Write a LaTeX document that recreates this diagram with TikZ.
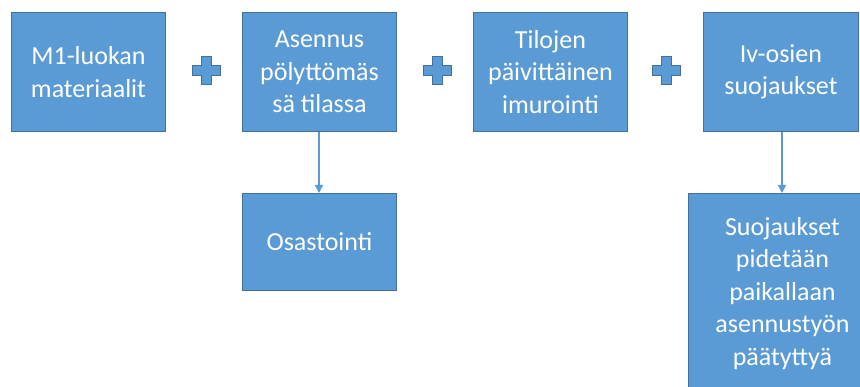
\documentclass[tikz,border=0pt]{standalone}
\usepackage{fontspec}
\setmainfont{Carlito}
\usetikzlibrary{arrows.meta}
\definecolor{boxfill}{HTML}{5B9BD5}
\definecolor{boxline}{HTML}{41719C}
\tikzset{
  box/.style={draw=boxline, line width=0.9pt, fill=boxfill, text=white, align=center,
    font=\fontsize{26}{32.5}\selectfont, inner sep=0pt, anchor=north west},
  link/.style={draw=boxfill, line width=1.5pt, -{Triangle[width=8pt,length=8pt]}},
  plussign/.pic={
    \path[fill=boxfill, draw=boxline, line width=0.6pt]
      (-5,-14) -- (5,-14) -- (5,-5) -- (14,-5) -- (14,5) -- (5,5) -- (5,14)
      -- (-5,14) -- (-5,5) -- (-14,5) -- (-14,-5) -- (-5,-5) -- cycle;
  }
}
\begin{document}
\begin{tikzpicture}[x=1pt,y=-1pt]
\useasboundingbox[fill=white] (0,0) rectangle (860,387);
\node[box, minimum width=154pt, minimum height=119pt] (b1) at (11,12) {M1-luokan\\materiaalit};
\node[box, minimum width=154pt, minimum height=119pt] (b2) at (242,12) {Asennus\\pölyttömäs\\sä tilassa};
\node[box, minimum width=154pt, minimum height=119pt] (b3) at (473,12) {Tilojen\\päivittäinen\\imurointi};
\node[box, minimum width=155pt, minimum height=119pt] (b4) at (703,12) {Iv-osien\\suojaukset};
\node[box, minimum width=154pt, minimum height=97pt] (b5) at (242,193) {Osastointi};
\node[box, minimum width=188pt, minimum height=200pt] (b6) at (688,193) {Suojaukset\\pidetään\\paikallaan\\asennustyön\\päätyttyä};
\pic at (206.5,70.5) {plussign};
\pic at (437,70.5) {plussign};
\pic at (666,70.5) {plussign};
\draw[link] (b2.south -| 319,0) -- (b5.north -| 319,0);
\draw[link] (b4.south -| 782,0) -- (b6.north -| 782,0);
\end{tikzpicture}
\end{document}
